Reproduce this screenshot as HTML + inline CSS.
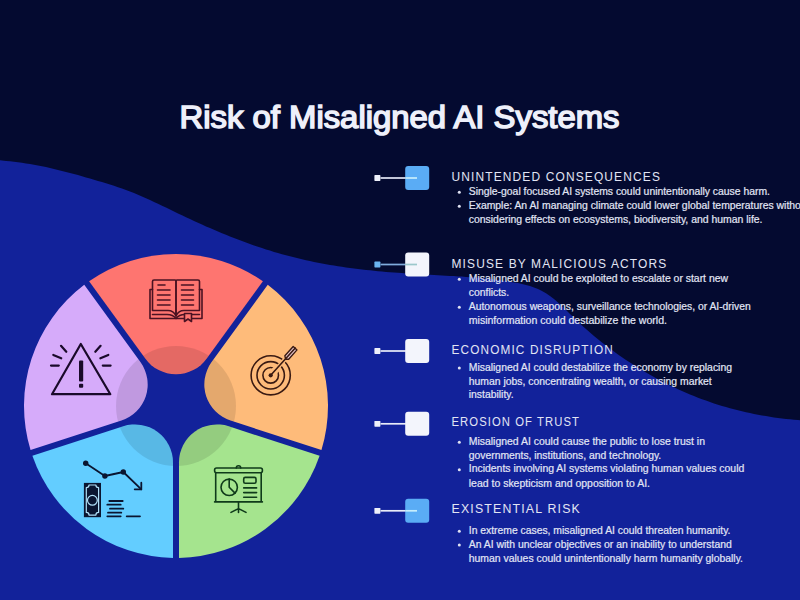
<!DOCTYPE html>
<html><head><meta charset="utf-8">
<style>
html,body{margin:0;padding:0;width:800px;height:600px;overflow:hidden;background:#040a30;}
#bg{position:absolute;left:0;top:0;}
.t{position:absolute;font-family:"Liberation Sans",sans-serif;white-space:nowrap;}
</style></head><body>
<svg id="bg" width="800" height="600" viewBox="0 0 800 600">
<defs><clipPath id="segclip">
<path d="M145.26,358.58 L89.10,281.29 A152.0,152.0 0 0 1 262.90,281.29 L206.74,358.58 A38.0,38.0 0 0 1 145.26,358.58 Z"/>
<path d="M211.60,362.11 L267.75,284.82 A152.0,152.0 0 0 1 321.46,450.11 L230.60,420.59 A38.0,38.0 0 0 1 211.60,362.11 Z"/>
<path d="M228.74,426.29 L319.61,455.81 A152.0,152.0 0 0 1 179.00,557.97 L179.00,462.43 A38.0,38.0 0 0 1 228.74,426.29 Z"/>
<path d="M173.00,462.43 L173.00,557.97 A152.0,152.0 0 0 1 32.39,455.81 L123.26,426.29 A38.0,38.0 0 0 1 173.00,462.43 Z"/>
<path d="M121.40,420.59 L30.54,450.11 A152.0,152.0 0 0 1 84.25,284.82 L140.40,362.11 A38.0,38.0 0 0 1 121.40,420.59 Z"/>
</clipPath></defs>
<rect width="800" height="600" fill="#040a30"/>
<path d="M-10,159.9 L-6,160.0 L-2,160.2 L2,160.5 L6,160.9 L10,161.3 L14,161.7 L18,162.2 L22,162.8 L26,163.4 L30,164.1 L34,164.8 L38,165.5 L42,166.3 L46,167.1 L50,168.0 L54,168.9 L58,169.9 L62,170.9 L66,171.9 L70,172.9 L74,174.0 L78,175.1 L82,176.2 L86,177.4 L90,178.5 L94,179.7 L98,180.9 L102,182.1 L106,183.3 L110,184.6 L114,185.8 L118,187.2 L122,188.5 L126,190.0 L130,191.5 L134,193.1 L138,194.7 L142,196.4 L146,198.2 L150,200.0 L154,201.9 L158,203.8 L162,205.7 L166,207.6 L170,209.6 L174,211.5 L178,213.4 L182,215.3 L186,217.2 L190,219.1 L194,221.0 L198,222.8 L202,224.6 L206,226.4 L210,228.1 L214,229.8 L218,231.5 L222,233.2 L226,234.8 L230,236.4 L234,238.0 L238,239.5 L242,241.0 L246,242.5 L250,244.0 L254,245.4 L258,246.7 L262,248.1 L266,249.4 L270,250.6 L274,251.9 L278,253.0 L282,254.2 L286,255.3 L290,256.3 L294,257.3 L298,258.3 L302,259.3 L306,260.2 L310,261.0 L314,261.9 L318,262.7 L322,263.4 L326,264.2 L330,264.9 L334,265.5 L338,266.2 L342,266.8 L346,267.4 L350,267.9 L354,268.5 L358,269.0 L362,269.5 L366,269.9 L370,270.3 L374,270.8 L378,271.2 L382,271.5 L386,271.9 L390,272.2 L394,272.5 L398,272.8 L402,273.1 L406,273.4 L410,273.6 L414,273.9 L418,274.1 L422,274.3 L426,274.6 L430,274.8 L434,275.0 L438,275.2 L442,275.4 L446,275.7 L450,275.9 L454,276.1 L458,276.4 L462,276.6 L466,276.9 L470,277.2 L474,277.5 L478,277.8 L482,278.2 L486,278.6 L490,279.0 L494,279.4 L498,279.9 L502,280.5 L506,281.1 L510,281.7 L514,282.4 L518,283.1 L522,284.0 L526,285.0 L530,286.1 L534,287.5 L538,289.1 L542,291.1 L546,293.3 L550,296.0 L554,299.1 L558,302.5 L562,306.2 L566,310.0 L570,313.9 L574,317.8 L578,321.7 L582,325.4 L586,329.0 L590,332.5 L594,335.9 L598,339.2 L602,342.4 L606,345.5 L610,348.5 L614,351.5 L618,354.4 L622,357.2 L626,359.9 L630,362.5 L634,365.1 L638,367.6 L642,370.1 L646,372.5 L650,374.8 L654,377.0 L658,379.2 L662,381.4 L666,383.4 L670,385.4 L674,387.3 L678,389.2 L682,391.0 L686,392.8 L690,394.5 L694,396.1 L698,397.7 L702,399.2 L706,400.6 L710,402.0 L714,403.4 L718,404.7 L722,405.9 L726,407.1 L730,408.2 L734,409.3 L738,410.3 L742,411.3 L746,412.2 L750,413.1 L754,413.9 L758,414.7 L762,415.4 L766,416.1 L770,416.8 L774,417.4 L778,417.9 L782,418.4 L786,418.9 L790,419.3 L794,419.7 L798,420.0 L802,420.3 L806,420.6 L810,420.8 L810,600 L-10,600 Z" fill="#12229a"/>
<path d="M145.26,358.58 L89.10,281.29 A152.0,152.0 0 0 1 262.90,281.29 L206.74,358.58 A38.0,38.0 0 0 1 145.26,358.58 Z" fill="#fe7570"/>
<path d="M211.60,362.11 L267.75,284.82 A152.0,152.0 0 0 1 321.46,450.11 L230.60,420.59 A38.0,38.0 0 0 1 211.60,362.11 Z" fill="#febb7a"/>
<path d="M228.74,426.29 L319.61,455.81 A152.0,152.0 0 0 1 179.00,557.97 L179.00,462.43 A38.0,38.0 0 0 1 228.74,426.29 Z" fill="#a5e48e"/>
<path d="M173.00,462.43 L173.00,557.97 A152.0,152.0 0 0 1 32.39,455.81 L123.26,426.29 A38.0,38.0 0 0 1 173.00,462.43 Z" fill="#63cdff"/>
<path d="M121.40,420.59 L30.54,450.11 A152.0,152.0 0 0 1 84.25,284.82 L140.40,362.11 A38.0,38.0 0 0 1 121.40,420.59 Z" fill="#d6abfa"/>
<circle cx="176.0" cy="406.0" r="60.0" fill="#000" fill-opacity="0.1" clip-path="url(#segclip)"/>
<!-- book -->
<g fill="none" stroke="#4a1222" stroke-width="1.6" stroke-linecap="round" stroke-linejoin="round">
<path d="M152.5,289.5 H150 V318.5 H202 V289.5 H199.5"/>
<path d="M176,316 V281 Q176,280 175,280 H154 Q152.5,280 152.5,281.5 V310.5 H168 Q173.5,310.5 176,316"/>
<path d="M176,316 V281 Q176,280 177,280 H198 Q199.5,280 199.5,281.5 V310.5 H184 Q178.5,310.5 176,316"/>
<path d="M152.5,314.5 H167 Q173,314.5 176,318.5 Q179,314.5 185,314.5 H199.5"/>
<path d="M158,285 H165 M157.5,290 H170 M157.5,295 H170 M157.5,300 H170 M157.5,305 H170"/>
<path d="M181.5,285 H193.5 M181.5,290 H193.5 M181.5,295 H193.5 M181.5,300 H193.5 M181.5,305 H193.5"/>
<path d="M184.5,313.5 V321.5 L188,319 L191.5,321.5 V313.5 Z" fill="#fe7570"/>
</g>
<!-- target -->
<g fill="none" stroke="#3a1a12" stroke-width="1.6" stroke-linecap="round" stroke-linejoin="round">
<circle cx="270.7" cy="375.3" r="19.6"/>
<circle cx="270.7" cy="375.3" r="13.7"/>
<circle cx="270.7" cy="375.3" r="7.8"/>
<path d="M270.7,375.3 L287,357.2" stroke="#febb7a" stroke-width="4.2" stroke-linecap="butt"/>
<path d="M274.4,371.2 L278.4,366.8" stroke="#febb7a" stroke-width="7" stroke-linecap="butt"/>
<path d="M284.9,355.8 L293.2,346.5 L297.0,349.9 L288.7,359.2 L285.6,359.2 Z" fill="#e8c6cc" stroke-width="1.4"/>
<path d="M270.7,375.3 L295.3,348"/>
<circle cx="270.7" cy="375.3" r="2.1" fill="#3a1a12" stroke="none"/>
</g>
<!-- presentation -->
<g fill="none" stroke="#0f3a1a" stroke-width="1.6" stroke-linecap="round" stroke-linejoin="round">
<rect x="214.6" y="468" width="47.8" height="4.7" rx="2"/>
<path d="M236.3,468 A2.2,2.2 0 0 1 240.7,468"/>
<path d="M215.7,472.7 V501.9 M261.2,472.7 V501.9 M214.6,501.9 H262.4"/>
<circle cx="229.2" cy="487.3" r="8.2"/>
<path d="M229.2,479.1 V487.3 L235,493.1"/>
<rect x="243.7" y="477.4" width="12.3" height="5.8" rx="1.5"/>
<path d="M243.7,487.9 H256.6 M243.7,492.6 H256.6 M243.7,497.2 H256.6"/>
<path d="M238.5,501.9 V512.4 M238.5,508.6 L231,512.4 M238.5,508.6 L246,512.4"/>
</g>
<!-- economic -->
<g fill="none" stroke="#0a1530" stroke-width="1.8" stroke-linecap="round" stroke-linejoin="round">
<path d="M85.7,463.3 L104.9,476 L123.3,472 L141.3,489.3"/>
<path d="M141.3,482.7 V489.3 H134.7"/>
<circle cx="85.7" cy="463.3" r="2.7" fill="#0a1530" stroke="none"/>
<circle cx="104.9" cy="476" r="2.7" fill="#0a1530" stroke="none"/>
<circle cx="123.3" cy="472" r="2.7" fill="#0a1530" stroke="none"/>
<rect x="83.9" y="482.9" width="17.1" height="34.3" fill="#0a1530" stroke="none"/>
<path d="M89,485 H95.9 A2.7,2.7 0 0 0 98.6,487.7 V512.4 A2.7,2.7 0 0 0 95.9,515.1 H89 A2.7,2.7 0 0 0 86.3,512.4 V487.7 A2.7,2.7 0 0 0 89,485 Z" stroke="#b0e0f8" stroke-width="1.2"/>
<circle cx="92.4" cy="500.3" r="4.9" stroke="#b0e0f8" stroke-width="1.2"/>
<path d="M109.3,501 H122.7 M107.3,504.7 H120.7 M110,508.7 H123.3 M108,512.7 H121.3 M107.3,516.3 H120.7 M126.7,516.3 H140"/>
</g>
<!-- warning -->
<g fill="none" stroke="#1a0a2a" stroke-width="2.2" stroke-linecap="round" stroke-linejoin="round">
<path d="M80.8,344 L52,394.2 H110.3 Z"/>
<rect x="79" y="360.5" width="4.2" height="21" rx="1" fill="#1a0a2a" stroke="none"/>
<rect x="79" y="383.8" width="4.2" height="4" rx="1" fill="#1a0a2a" stroke="none"/>
<path d="M61,345.8 L66.3,351.8 M53.3,355 L61.2,358.3 M51,365.6 H58.8"/>
<path d="M100.6,345.8 L95.3,351.8 M108.3,355 L100.4,358.3 M110.6,365.6 H102.8"/>
</g>

<text x="179.5" y="128" font-family="Liberation Sans" font-weight="normal" font-size="31" fill="#eef0fa" stroke="#eef0fa" stroke-width="1.5" textLength="440" lengthAdjust="spacingAndGlyphs">Risk of Misaligned AI Systems</text>
<rect x="405.2" y="166.0" width="24" height="24" rx="3" fill="#5aacf5"/>
<rect x="374.4" y="175.1" width="6" height="5.8" rx="0.6" fill="#eef0fa"/>
<rect x="380.5" y="177.15" width="24.7" height="1.7" fill="#e2e6f4"/>
<rect x="405.2" y="177.15" width="11.8" height="1.7" fill="#c6eefc"/>
<text x="451.5" y="180.5" font-family="Liberation Sans" font-size="13.6" fill="#e2e5f4" letter-spacing="1.3" textLength="209.5" lengthAdjust="spacingAndGlyphs">UNINTENDED CONSEQUENCES</text>
<circle cx="459.3" cy="192.3" r="1.5" fill="#dfe2f2"/>
<text x="468.75" y="195" font-family="Liberation Sans" font-size="10.4" fill="#e2e6f5" stroke="#e2e6f5" stroke-width="0.2" textLength="301.25" lengthAdjust="spacingAndGlyphs">Single-goal focused AI systems could unintentionally cause harm.</text>
<circle cx="459.3" cy="206.3" r="1.5" fill="#dfe2f2"/>
<text x="468.75" y="209" font-family="Liberation Sans" font-size="10.4" fill="#e2e6f5" stroke="#e2e6f5" stroke-width="0.2">Example: An AI managing climate could lower global temperatures without</text>
<text x="468.75" y="222.5" font-family="Liberation Sans" font-size="10.4" fill="#e2e6f5" stroke="#e2e6f5" stroke-width="0.2" textLength="293.75" lengthAdjust="spacingAndGlyphs">considering effects on ecosystems, biodiversity, and human life.</text>
<rect x="405.2" y="252.5" width="24" height="24" rx="3" fill="#f3f5fc"/>
<rect x="374.4" y="261.6" width="6" height="5.8" rx="0.6" fill="#6ab4f0"/>
<rect x="380.5" y="263.65" width="24.7" height="1.7" fill="#80acdc"/>
<rect x="405.2" y="263.65" width="11.8" height="1.7" fill="#9cc8cc"/>
<text x="451.5" y="267.5" font-family="Liberation Sans" font-size="13.6" fill="#e2e5f4" letter-spacing="1.3" textLength="215.9" lengthAdjust="spacingAndGlyphs">MISUSE BY MALICIOUS ACTORS</text>
<circle cx="459.3" cy="279.3" r="1.5" fill="#dfe2f2"/>
<text x="468.75" y="282" font-family="Liberation Sans" font-size="10.4" fill="#e2e6f5" stroke="#e2e6f5" stroke-width="0.2" textLength="259.25" lengthAdjust="spacingAndGlyphs">Misaligned AI could be exploited to escalate or start new</text>
<text x="468.75" y="296" font-family="Liberation Sans" font-size="10.4" fill="#e2e6f5" stroke="#e2e6f5" stroke-width="0.2">conflicts.</text>
<circle cx="459.3" cy="307.3" r="1.5" fill="#dfe2f2"/>
<text x="468.75" y="310" font-family="Liberation Sans" font-size="10.4" fill="#e2e6f5" stroke="#e2e6f5" stroke-width="0.2" textLength="282" lengthAdjust="spacingAndGlyphs">Autonomous weapons, surveillance technologies, or AI-driven</text>
<text x="468.75" y="323.5" font-family="Liberation Sans" font-size="10.4" fill="#e2e6f5" stroke="#e2e6f5" stroke-width="0.2" textLength="198.25" lengthAdjust="spacingAndGlyphs">misinformation could destabilize the world.</text>
<rect x="405.2" y="339.0" width="24" height="24" rx="3" fill="#f3f5fc"/>
<rect x="374.4" y="348.1" width="6" height="5.8" rx="0.6" fill="#eef0fa"/>
<rect x="380.5" y="350.15" width="24.7" height="1.7" fill="#e8ecf8"/>
<rect x="405.2" y="350.15" width="11.8" height="1.7" fill="#f3f5fc"/>
<text x="451.5" y="354.2" font-family="Liberation Sans" font-size="13.6" fill="#e2e5f4" letter-spacing="1.3" textLength="162.5" lengthAdjust="spacingAndGlyphs">ECONOMIC DISRUPTION</text>
<circle cx="459.3" cy="368.0" r="1.5" fill="#dfe2f2"/>
<text x="468.75" y="370.7" font-family="Liberation Sans" font-size="10.4" fill="#e2e6f5" stroke="#e2e6f5" stroke-width="0.2" textLength="263.25" lengthAdjust="spacingAndGlyphs">Misaligned AI could destabilize the economy by replacing</text>
<text x="468.75" y="384.5" font-family="Liberation Sans" font-size="10.4" fill="#e2e6f5" stroke="#e2e6f5" stroke-width="0.2" textLength="243" lengthAdjust="spacingAndGlyphs">human jobs, concentrating wealth, or causing market</text>
<text x="468.75" y="398.2" font-family="Liberation Sans" font-size="10.4" fill="#e2e6f5" stroke="#e2e6f5" stroke-width="0.2">instability.</text>
<rect x="405.2" y="411.8" width="24" height="24" rx="3" fill="#f3f5fc"/>
<rect x="374.4" y="420.9" width="6" height="5.8" rx="0.6" fill="#eef0fa"/>
<rect x="380.5" y="422.95" width="24.7" height="1.7" fill="#e8ecf8"/>
<rect x="405.2" y="422.95" width="11.8" height="1.7" fill="#f3f5fc"/>
<text x="451.5" y="426.2" font-family="Liberation Sans" font-size="13.6" fill="#e2e5f4" letter-spacing="1.3" textLength="128.5" lengthAdjust="spacingAndGlyphs">EROSION OF TRUST</text>
<circle cx="459.3" cy="442.2" r="1.5" fill="#dfe2f2"/>
<text x="468.75" y="444.9" font-family="Liberation Sans" font-size="10.4" fill="#e2e6f5" stroke="#e2e6f5" stroke-width="0.2" textLength="236.25" lengthAdjust="spacingAndGlyphs">Misaligned AI could cause the public to lose trust in</text>
<text x="468.75" y="458.6" font-family="Liberation Sans" font-size="10.4" fill="#e2e6f5" stroke="#e2e6f5" stroke-width="0.2" textLength="192.5" lengthAdjust="spacingAndGlyphs">governments, institutions, and technology.</text>
<circle cx="459.3" cy="469.7" r="1.5" fill="#dfe2f2"/>
<text x="468.75" y="472.4" font-family="Liberation Sans" font-size="10.4" fill="#e2e6f5" stroke="#e2e6f5" stroke-width="0.2" textLength="275.5" lengthAdjust="spacingAndGlyphs">Incidents involving AI systems violating human values could</text>
<text x="468.75" y="486.7" font-family="Liberation Sans" font-size="10.4" fill="#e2e6f5" stroke="#e2e6f5" stroke-width="0.2" textLength="181.25" lengthAdjust="spacingAndGlyphs">lead to skepticism and opposition to AI.</text>
<rect x="405.2" y="498.8" width="24" height="24" rx="3" fill="#5aacf5"/>
<rect x="374.4" y="507.9" width="6" height="5.8" rx="0.6" fill="#eef0fa"/>
<rect x="380.5" y="509.95" width="24.7" height="1.7" fill="#e8ecf8"/>
<rect x="405.2" y="509.95" width="11.8" height="1.7" fill="#c6eefc"/>
<text x="451.5" y="513.4" font-family="Liberation Sans" font-size="13.6" fill="#e2e5f4" letter-spacing="1.3" textLength="129.5" lengthAdjust="spacingAndGlyphs">EXISTENTIAL RISK</text>
<circle cx="459.3" cy="531.3" r="1.5" fill="#dfe2f2"/>
<text x="468.75" y="534" font-family="Liberation Sans" font-size="10.4" fill="#e2e6f5" stroke="#e2e6f5" stroke-width="0.2" textLength="261.75" lengthAdjust="spacingAndGlyphs">In extreme cases, misaligned AI could threaten humanity.</text>
<circle cx="459.3" cy="545.1" r="1.5" fill="#dfe2f2"/>
<text x="468.75" y="547.8" font-family="Liberation Sans" font-size="10.4" fill="#e2e6f5" stroke="#e2e6f5" stroke-width="0.2" textLength="263" lengthAdjust="spacingAndGlyphs">An AI with unclear objectives or an inability to understand</text>
<text x="468.75" y="561.5" font-family="Liberation Sans" font-size="10.4" fill="#e2e6f5" stroke="#e2e6f5" stroke-width="0.2" textLength="274.25" lengthAdjust="spacingAndGlyphs">human values could unintentionally harm humanity globally.</text>
</svg>


</body></html>
